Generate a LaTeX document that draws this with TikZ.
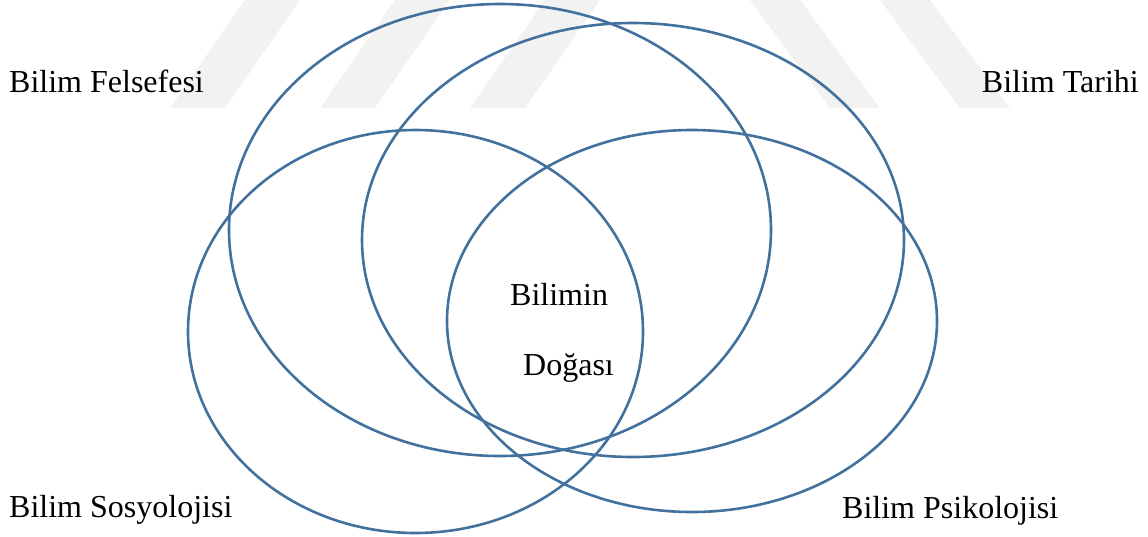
\documentclass[tikz,border=0pt]{standalone}
\usepackage{fontspec}
\setmainfont{Liberation Serif}
\begin{document}
\begin{tikzpicture}[x=1pt,y=-1pt,
  ring/.style={draw=ringblue,line width=2.6pt},
  lbl/.style={inner sep=0pt,font=\fontsize{32}{37}\selectfont},
  wm/.style={fill=black!5,draw=none}]
\definecolor{ringblue}{HTML}{41719C}
\useasboundingbox (0,0) rectangle (1148,536);
% faint watermark bands
\foreach \s in {245,395,545}{
  \fill[wm] (\s,0) -- (\s+55,0) -- (\s+55-75,108) -- (\s-75,108) -- cycle;}
\foreach \s in {750,880}{
  \fill[wm] (\s,0) -- (\s+50,0) -- (\s+50+80,108) -- (\s+80,108) -- cycle;}
% circles
\draw[ring] (500,230) ellipse [x radius=271,y radius=226];
\draw[ring] (633,240) ellipse [x radius=271,y radius=217];
\draw[ring] (415.5,331.5) ellipse [x radius=227.5,y radius=201.5];
\draw[ring] (692,321) ellipse [x radius=245,y radius=191];
% labels
\node[lbl,anchor=base west] (fel) at (9,92) {Bilim Felsefesi};
\node[lbl,anchor=base east] (tar) at (1139,92) {Bilim Tarihi};
\node[lbl,anchor=base west] (sos) at (9,517) {Bilim Sosyolojisi};
\node[lbl,anchor=base west] (psi) at (842,518) {Bilim Psikolojisi};
\node[lbl,anchor=base west] (bil) at (510,305) {Bilimin};
\node[lbl,anchor=base west] (dog) at (523,375) {Doğası};
\end{tikzpicture}
\end{document}
